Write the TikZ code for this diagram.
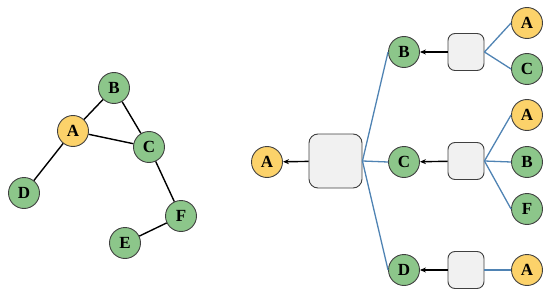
\documentclass[tikz,border=0pt]{standalone}
\usepackage{fontspec}
\setmainfont{Liberation Serif}
\usepackage{tikz}
\usetikzlibrary{arrows.meta}
\definecolor{ndgreen}{HTML}{8CC68A}
\definecolor{ndyellow}{HTML}{FCD26A}
\definecolor{aggfill}{HTML}{F1F1F1}
\definecolor{edgeblue}{HTML}{4F83B3}
\tikzset{
  vtx/.style  = {circle, draw=black!75, line width=0.9pt, fill=ndgreen,
                 minimum size=31pt, inner sep=0pt, font=\fontsize{17}{20}\selectfont\bfseries},
  vtxy/.style = {vtx, fill=ndyellow},
  agg/.style  = {rectangle, rounded corners=7pt, draw=black!75, line width=0.9pt,
                 fill=aggfill, minimum width=36pt, minimum height=37pt, inner sep=0pt},
  aggb/.style = {agg, rounded corners=9pt, minimum width=53pt, minimum height=54pt},
  ge/.style   = {line width=1.4pt, black},
  nb/.style   = {line width=1.3pt, edgeblue},
  fl/.style   = {-{Stealth[length=6pt,width=5pt]}, line width=1.4pt, black},
}
\begin{document}
\begin{tikzpicture}[x=1pt,y=-1pt]
  \useasboundingbox (0,0) rectangle (550,297);

  % input graph
  \node[vtx]  (gB) at (114,88)  {B};
  \node[vtxy] (gA) at (73,131)  {A};
  \node[vtx]  (gC) at (149,147) {C};
  \node[vtx]  (gD) at (24,193)  {D};
  \node[vtx]  (gF) at (181,216) {F};
  \node[vtx]  (gE) at (125,243) {E};

  \draw[ge] (gA) -- (gB);
  \draw[ge] (gB) -- (gC);
  \draw[ge] (gA) -- (gC);
  \draw[ge] (gA) -- (gD);
  \draw[ge] (gC) -- (gF);
  \draw[ge] (gF) -- (gE);

  % two-hop aggregation tree
  \node[vtxy] (rA)   at (267,162) {A};
  \node[aggb] (agg0) at (335.5,161) {};

  \node[vtx] (hB) at (404,52)  {B};
  \node[vtx] (hC) at (404,162) {C};
  \node[vtx] (hD) at (404,270) {D};

  \node[agg] (aggB) at (466,52)  {};
  \node[agg] (aggC) at (466,161) {};
  \node[agg] (aggD) at (466,270) {};

  \node[vtxy] (lBA) at (527,23)  {A};
  \node[vtx]  (lBC) at (527,69)  {C};
  \node[vtxy] (lCA) at (527,115) {A};
  \node[vtx]  (lCB) at (527,162) {B};
  \node[vtx]  (lCF) at (527,209) {F};
  \node[vtxy] (lDA) at (527,270) {A};

  \draw[fl] (agg0) -- (rA);
  \draw[fl] (aggB) -- (hB);
  \draw[fl] (aggC) -- (hC);
  \draw[fl] (aggD) -- (hD);

  \draw[nb] (agg0.east) -- (hB.west);
  \draw[nb] (agg0.east) -- (hC.west);
  \draw[nb] (agg0.east) -- (hD.west);

  \draw[nb] (aggB.east) -- (lBA.west);
  \draw[nb] (aggB.east) -- (lBC.west);
  \draw[nb] (aggC.east) -- (lCA.west);
  \draw[nb] (aggC.east) -- (lCB.west);
  \draw[nb] (aggC.east) -- (lCF.west);
  \draw[nb] (aggD.east) -- (lDA.west);

\end{tikzpicture}
\end{document}
